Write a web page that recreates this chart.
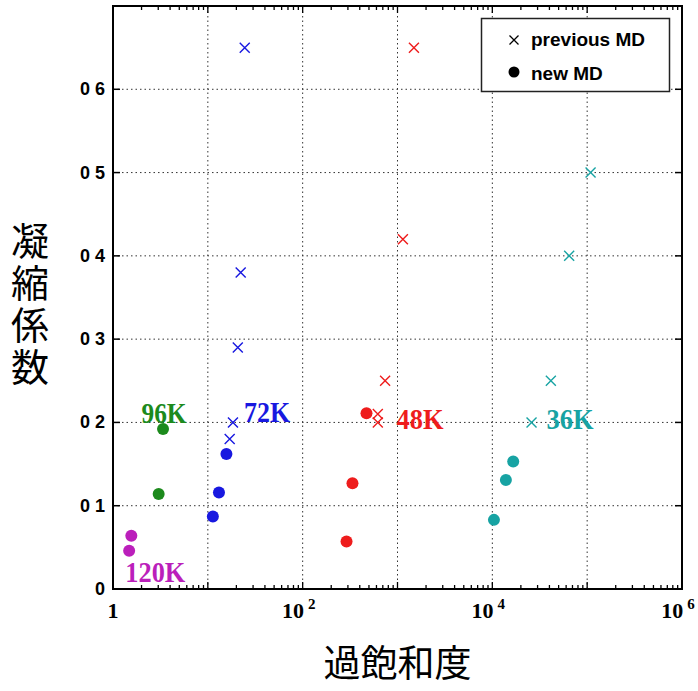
<!DOCTYPE html>
<html>
<head>
<meta charset="utf-8">
<script src="https://cdn.jsdelivr.net/npm/d3@7"></script>
<style>
  body { margin: 0; background: #fff; }
  svg { display: block; }
</style>
</head>
<body>
<div id="chart"></div>
<script>
// previous MD (crosses)
const prevBlueX = [24.5, 22.2, 20.7, 18.4, 17.0];
const prevBlueY = [0.65, 0.38, 0.29, 0.20, 0.18];
const prevRedX = [1490, 1140, 740, 620, 620];
const prevRedY = [0.65, 0.42, 0.25, 0.21, 0.20];
const prevCyanX = [108600, 64600, 41400, 25900];
const prevCyanY = [0.50, 0.40, 0.25, 0.20];

// new MD (dots)
const newMagentaX = [1.56, 1.48];
const newMagentaY = [0.064, 0.046];
const newGreenX = [3.37, 3.03];
const newGreenY = [0.192, 0.114];
const newBlueX = [15.7, 13.1, 11.3];
const newBlueY = [0.162, 0.116, 0.087];
const newRedX = [471, 335, 290];
const newRedY = [0.211, 0.127, 0.057];
const newCyanX = [16600, 13900, 10400];
const newCyanY = [0.153, 0.131, 0.083];

// temperature labels (anchored in data coords)
const labelText = ['120K', '96K', '72K', '48K', '36K'];
const labelX = [1.35, 2.0, 24.1, 977, 37300];
const labelY = [0.009, 0.199, 0.201, 0.192, 0.192];

const yTickValues = [0, 0.1, 0.2, 0.3, 0.4, 0.5, 0.6];
const yTickLabels = ['0', '0 1', '0 2', '0 3', '0 4', '0 5', '0 6'];
const xLabelExp = [0, 2, 4, 6];

const colors = {
  blue: '#1818e0',
  red: '#ee1c1c',
  cyan: '#17a3a3',
  green: '#1c8a1c',
  magenta: '#bb1fbb',
};
const labelColors = [colors.magenta, colors.green, colors.blue, colors.red, colors.cyan];

const width = 698;
const height = 691;
const margin = { top: 6, right: 16, bottom: 102, left: 113 };

const svg = d3
  .select('#chart')
  .append('svg')
  .attr('width', width)
  .attr('height', height);

const x = d3
  .scaleLog()
  .domain([1, 1e6])
  .range([margin.left, width - margin.right]);

const y = d3
  .scaleLinear()
  .domain([0, 0.7])
  .range([height - margin.bottom, margin.top]);

const x0 = margin.left;
const x1 = width - margin.right;
const y0 = height - margin.bottom;
const y1 = margin.top;

// Grid lines (dotted)
const decades = [10, 100, 1000, 1e4, 1e5];
svg
  .append('g')
  .attr('class', 'grid')
  .selectAll('line')
  .data(decades)
  .enter()
  .append('line')
  .attr('x1', (d) => x(d))
  .attr('x2', (d) => x(d))
  .attr('y1', y0)
  .attr('y2', y1)
  .attr('stroke', '#333')
  .attr('stroke-width', 1)
  .attr('stroke-dasharray', '1.5,3');

svg
  .append('g')
  .attr('class', 'grid')
  .selectAll('line')
  .data(yTickValues.filter((d) => d > 0))
  .enter()
  .append('line')
  .attr('x1', x0)
  .attr('x2', x1)
  .attr('y1', (d) => y(d))
  .attr('y2', (d) => y(d))
  .attr('stroke', '#333')
  .attr('stroke-width', 1)
  .attr('stroke-dasharray', '1.5,3');

// Minor / major x ticks, bottom and top, pointing inward
const xTicks = [];
for (let e = 0; e < 6; e++) {
  for (let m = 1; m <= 9; m++) {
    xTicks.push({ v: m * Math.pow(10, e), major: m === 1 });
  }
}
xTicks.push({ v: 1e6, major: true });

svg
  .append('g')
  .selectAll('line')
  .data(xTicks)
  .enter()
  .append('line')
  .attr('x1', (d) => x(d.v))
  .attr('x2', (d) => x(d.v))
  .attr('y1', y0)
  .attr('y2', (d) => y0 - (d.major ? 7 : 4))
  .attr('stroke', '#000')
  .attr('stroke-width', 1.3);

svg
  .append('g')
  .selectAll('line')
  .data(xTicks)
  .enter()
  .append('line')
  .attr('x1', (d) => x(d.v))
  .attr('x2', (d) => x(d.v))
  .attr('y1', y1)
  .attr('y2', (d) => y1 + (d.major ? 7 : 4))
  .attr('stroke', '#000')
  .attr('stroke-width', 1.3);

// y ticks on both sides
svg
  .append('g')
  .selectAll('line')
  .data(yTickValues)
  .enter()
  .append('line')
  .attr('x1', x0)
  .attr('x2', x0 + 7)
  .attr('y1', (d) => y(d))
  .attr('y2', (d) => y(d))
  .attr('stroke', '#000')
  .attr('stroke-width', 1.5);

svg
  .append('g')
  .selectAll('line')
  .data(yTickValues)
  .enter()
  .append('line')
  .attr('x1', x1)
  .attr('x2', x1 - 7)
  .attr('y1', (d) => y(d))
  .attr('y2', (d) => y(d))
  .attr('stroke', '#000')
  .attr('stroke-width', 1.5);

// Frame
svg
  .append('rect')
  .attr('x', x0)
  .attr('y', y1)
  .attr('width', x1 - x0)
  .attr('height', y0 - y1)
  .attr('fill', 'none')
  .attr('stroke', '#000')
  .attr('stroke-width', 2);

// y tick labels
svg
  .append('g')
  .selectAll('text')
  .data(yTickValues)
  .enter()
  .append('text')
  .attr('x', x0 - 8)
  .attr('y', (d) => y(d) + 6)
  .attr('text-anchor', 'end')
  .style('font-family', '"Liberation Sans", Arial, sans-serif')
  .style('font-weight', 'bold')
  .style('font-size', '18px')
  .text((d, i) => yTickLabels[i].replace(' ', '\u00a0'));

// x tick labels: 1, 10², 10⁴, 10⁶
const xl = svg
  .append('g')
  .selectAll('text')
  .data(xLabelExp)
  .enter()
  .append('text')
  .attr('x', (d) => x(Math.pow(10, d)) + (d === 0 ? 0 : -4))
  .attr('y', y0 + 29)
  .attr('text-anchor', 'middle')
  .style('font-family', '"Liberation Serif", "DejaVu Serif", serif')
  .style('font-weight', 'bold')
  .style('font-size', '22px');

xl.append('tspan').text((d) => (d === 0 ? '1' : '10'));
xl
  .filter((d) => d !== 0)
  .append('tspan')
  .attr('dx', 4)
  .attr('dy', -9)
  .style('font-size', '15px')
  .text((d) => d);

// Crosses: previous MD
const prevSeries = [
  { xs: prevBlueX, ys: prevBlueY, color: colors.blue },
  { xs: prevRedX, ys: prevRedY, color: colors.red },
  { xs: prevCyanX, ys: prevCyanY, color: colors.cyan },
];

const crossPath = (cx, cy, s) =>
  `M${cx - s},${cy - s}L${cx + s},${cy + s}M${cx - s},${cy + s}L${cx + s},${cy - s}`;

prevSeries.forEach((s) => {
  svg
    .append('g')
    .selectAll('path')
    .data(s.xs.map((v, i) => ({ x: v, y: s.ys[i] })))
    .enter()
    .append('path')
    .attr('d', (d) => crossPath(x(d.x), y(d.y), 5))
    .attr('stroke', s.color)
    .attr('stroke-width', 1.4)
    .attr('fill', 'none');
});

// Dots: new MD
const newSeries = [
  { xs: newMagentaX, ys: newMagentaY, color: colors.magenta },
  { xs: newGreenX, ys: newGreenY, color: colors.green },
  { xs: newBlueX, ys: newBlueY, color: colors.blue },
  { xs: newRedX, ys: newRedY, color: colors.red },
  { xs: newCyanX, ys: newCyanY, color: colors.cyan },
];

newSeries.forEach((s) => {
  svg
    .append('g')
    .selectAll('circle')
    .data(s.xs.map((v, i) => ({ x: v, y: s.ys[i] })))
    .enter()
    .append('circle')
    .attr('cx', (d) => x(d.x))
    .attr('cy', (d) => y(d.y))
    .attr('r', 6)
    .attr('fill', s.color);
});

// Temperature labels
const labelWidths = [60, 45, 46, 47, 47];
svg
  .append('g')
  .selectAll('text')
  .data(labelText)
  .enter()
  .append('text')
  .attr('x', (d, i) => x(labelX[i]))
  .attr('y', (d, i) => y(labelY[i]))
  .attr('fill', (d, i) => labelColors[i])
  .attr('textLength', (d, i) => labelWidths[i])
  .attr('lengthAdjust', 'spacingAndGlyphs')
  .style('font-family', '"Liberation Serif", "DejaVu Serif", serif')
  .style('font-weight', 'bold')
  .style('font-size', '29px')
  .text((d) => d);

// Legend
const legend = svg.append('g');
legend
  .append('rect')
  .attr('x', 481.5)
  .attr('y', 18.5)
  .attr('width', 188)
  .attr('height', 73)
  .attr('fill', '#fff')
  .attr('stroke', '#222')
  .attr('stroke-width', 1.5);

legend
  .append('path')
  .attr('d', crossPath(514, 40, 4.5))
  .attr('stroke', '#000')
  .attr('stroke-width', 1.3);

legend
  .append('circle')
  .attr('cx', 514)
  .attr('cy', 72)
  .attr('r', 5.5)
  .attr('fill', '#000');

legend
  .append('text')
  .attr('x', 531)
  .attr('y', 46)
  .style('font-family', '"Liberation Sans", Arial, sans-serif')
  .style('font-weight', 'bold')
  .style('font-size', '19px')
  .text('previous MD');

legend
  .append('text')
  .attr('x', 531)
  .attr('y', 80)
  .style('font-family', '"Liberation Sans", Arial, sans-serif')
  .style('font-weight', 'bold')
  .style('font-size', '19px')
  .text('new MD');

// Axis titles
svg
  .append('text')
  .attr('x', (x0 + x1) / 2)
  .attr('y', 677)
  .attr('text-anchor', 'middle')
  .style('font-family', '"Noto Sans CJK JP", sans-serif')
  .style('font-size', '37px')
  .text('過飽和度');

// vertical title, one text element in vertical writing mode
svg
  .append('text')
  .attr('x', 30)
  .attr('y', 222)
  .style('writing-mode', 'vertical-rl')
  .style('glyph-orientation-vertical', '0')
  .style('letter-spacing', '4px')
  .style('font-family', '"Noto Sans CJK JP", sans-serif')
  .style('font-size', '38px')
  .text('凝縮係数');
</script>
</body>
</html>
